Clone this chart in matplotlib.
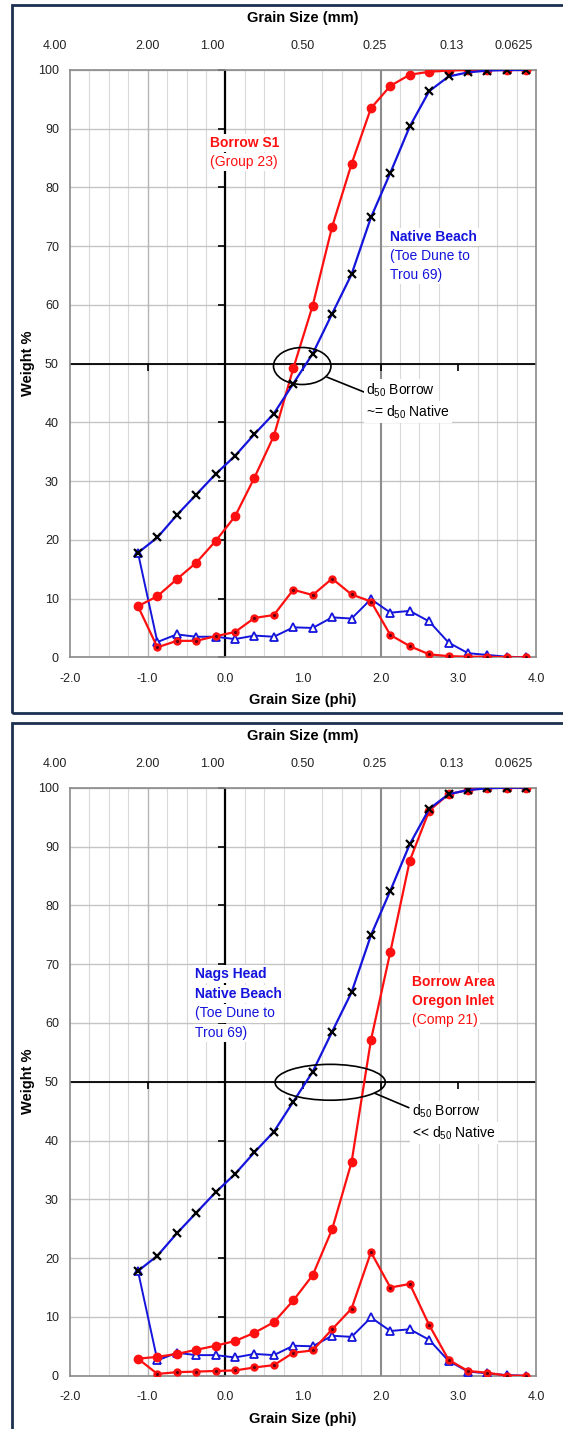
import matplotlib
matplotlib.use('Agg')
import matplotlib.pyplot as plt
from matplotlib.patches import Ellipse, Rectangle
import matplotlib.transforms as mtransforms
import numpy as np

plt.rcParams['font.family'] = ['Liberation Sans', 'DejaVu Sans']
plt.rcParams['mathtext.fontset'] = 'custom'
plt.rcParams['mathtext.rm'] = 'Liberation Sans'

# ---------------- data ----------------
phi = [-1.125, -0.875, -0.625, -0.375, -0.125, 0.125, 0.375, 0.625, 0.875, 1.125,
       1.375, 1.625, 1.875, 2.125, 2.375, 2.625, 2.875, 3.125, 3.375, 3.625, 3.875]

native_cum = [17.8, 20.4, 24.2, 27.7, 31.2, 34.3, 38.0, 41.5, 46.6, 51.7,
              58.5, 65.2, 74.9, 82.5, 90.4, 96.4, 98.9, 99.6, 99.9, 100.0, 100.0]
native_ret = [17.8, 2.6, 3.9, 3.5, 3.5, 3.1, 3.7, 3.5, 5.1, 5.0,
              6.8, 6.6, 9.9, 7.6, 7.9, 6.1, 2.5, 0.7, 0.4, 0.1, 0.0]

s1_cum = [8.7, 10.4, 13.3, 16.1, 19.8, 24.0, 30.6, 37.7, 49.2, 59.9,
          73.3, 84.0, 93.5, 97.3, 99.2, 99.7, 99.9, 100.0, 100.0, 100.0, 100.0]
s1_ret = [8.7, 1.7, 2.8, 2.8, 3.6, 4.3, 6.7, 7.2, 11.5, 10.6,
          13.4, 10.7, 9.5, 3.8, 1.9, 0.5, 0.2, 0.1, 0.1, 0.0, 0.0]

oi_cum = [2.9, 3.2, 3.7, 4.4, 5.1, 5.9, 7.3, 9.1, 12.8, 17.1,
          24.9, 36.3, 57.1, 72.1, 87.6, 96.1, 98.9, 99.6, 100.0, 100.0, 100.0]
oi_ret = [2.9, 0.3, 0.6, 0.7, 0.8, 0.9, 1.4, 1.8, 3.9, 4.3,
          7.9, 11.4, 21.0, 15.0, 15.6, 8.6, 2.7, 0.8, 0.5, 0.0, 0.0]

phi_ticks = [-2.0, -1.0, 0.0, 1.0, 2.0, 3.0, 4.0]
phi_labels = ['-2.0', '-1.0', '0.0', '1.0', '2.0', '3.0', '4.0']
mm_label_phi = [-2.2, -1.0, -0.17, 0.99, 1.92, 2.92, 3.71]
mm_labels = ['4.00', '2.00', '1.00', '0.50', '0.25', '0.13', '0.0625']
weight_ticks = [0, 10, 20, 30, 40, 50, 60, 70, 80, 90, 100]

RED = '#ff1010'
BLUE = '#1414dc'
FRAME = '#1c3050'
W, H = 563, 1429

fig = plt.figure(figsize=(W / 100, H / 100), dpi=100)

# outer frames
fig.patches.append(Rectangle((12 / W, 1 - 713 / H), 1.0, (713 - 5) / H,
                             transform=fig.transFigure, fill=False, ec=FRAME, lw=2.0))
fig.patches.append(Rectangle((12 / W, -0.1), 1.0, 1 - 723 / H + 0.1,
                             transform=fig.transFigure, fill=False, ec=FRAME, lw=2.0))


def panel(top_px, bot_px, borrow_cum, borrow_ret):
    ax = fig.add_axes([70 / W, 1 - bot_px / H, (536 - 70) / W, (bot_px - top_px) / H])
    ax.set_xlim(-2, 4)
    ax.set_ylim(0, 100)
    ax.set_xticks(phi_ticks, phi_labels)
    ax.set_xticks(np.arange(-2, 4.001, 0.25), minor=True)
    ax.set_yticks(weight_ticks, [str(v) for v in weight_ticks])
    ax.tick_params(axis='x', which='both', length=0, pad=11, labelsize=9, labelcolor='#222222')
    ax.tick_params(axis='y', which='both', length=0, pad=8, labelsize=9, labelcolor='#222222')
    ax.grid(which='minor', axis='x', color='#d9d9d9', lw=0.8)
    ax.grid(which='major', axis='y', color='#c4c4c4', lw=1.0)
    ax.grid(which='major', axis='x', visible=False)
    for s in ax.spines.values():
        s.set_color('#8a8a8a')
        s.set_linewidth(1.2)
    ax.set_axisbelow(True)
    ax.axvline(-1, color='#b4b4b4', lw=1.0, zorder=1)
    ax.axvline(2, color='#8c8c8c', lw=1.5, zorder=1)
    ax.axhline(50, color='black', lw=1.3, zorder=1.5)
    ax.axvline(0, color='black', lw=1.6, zorder=1.5)
    # tick marks on the crossing axes (left-pointing on phi=0, down-pointing on 50 %)
    ax.plot([0] * len(weight_ticks), weight_ticks, ls='none', marker=0, ms=5,
            mew=1.2, color='black', zorder=1.6, clip_on=False)
    ax.plot(phi_ticks[1:-1], [50] * (len(phi_ticks) - 2), ls='none', marker=3, ms=5,
            mew=1.2, color='black', zorder=1.6)

    trans = mtransforms.blended_transform_factory(ax.transData, ax.transAxes)
    off = 24 / (bot_px - top_px)
    for p, lab in zip(mm_label_phi, mm_labels):
        ax.text(p, 1 + off, lab, transform=trans, ha='center', va='center',
                fontsize=9, color='#222222', clip_on=False)

    ax.plot(phi, native_ret, color=BLUE, lw=1.4, marker='^', ms=5.5, mfc='#fffff0',
            mec=BLUE, mew=1.3, zorder=3)
    ax.plot(phi, borrow_ret, color=RED, lw=1.6, marker='o', ms=5, mfc=RED, mec=RED, zorder=4)
    ax.plot(phi, borrow_ret, ls='none', marker='.', ms=2.5, color='#600010', zorder=4.5)
    ax.plot(phi, borrow_cum, color=RED, lw=1.6, marker='o', ms=6, mfc=RED, mec=RED, zorder=5)
    ax.plot(phi, native_cum, color=BLUE, lw=1.6, marker='x', ms=6, mec='black', mew=1.6, zorder=6)

    cx = (70 + 536) / 2 / W
    fig.text(cx, 1 - (top_px - 52) / H, 'Grain Size (mm)', ha='center', va='center',
             fontsize=10.5, fontweight='bold')
    fig.text(cx, 1 - (bot_px + 43) / H, 'Grain Size (phi)', ha='center', va='center',
             fontsize=10.5, fontweight='bold')
    fig.text(28 / W, 1 - ((top_px + bot_px) / 2) / H, 'Weight %', ha='center', va='center',
             rotation=90, fontsize=10.5, fontweight='bold')
    return ax


box = dict(facecolor='white', edgecolor='none', pad=1.5)

# ---------- panel 1 ----------
ax1 = panel(70, 657.3, s1_cum, s1_ret)
ax1.text(-0.20, 87.6, 'Borrow S1', color=RED, fontsize=10, fontweight='bold', va='center', bbox=box, zorder=7)
ax1.text(-0.20, 84.3, '(Group 23)', color=RED, fontsize=10, va='center', bbox=box, zorder=7)
ax1.text(2.12, 71.6, 'Native Beach', color=BLUE, fontsize=10, fontweight='bold', va='center', bbox=box, zorder=7)
ax1.text(2.12, 68.3, '(Toe Dune to', color=BLUE, fontsize=10, va='center', bbox=box, zorder=7)
ax1.text(2.12, 65.1, 'Trou 69)', color=BLUE, fontsize=10, va='center', bbox=box, zorder=7)
ax1.add_patch(Ellipse((0.99, 49.6), 0.74, 6.3, fill=False, ec='black', lw=1.2, zorder=7))
ax1.plot([1.31, 1.78], [47.7, 45.2], color='black', lw=1.2, zorder=7)
ax1.text(1.81, 45.5, r'd$_\mathregular{50}$ Borrow', fontsize=10, va='center', bbox=box, zorder=7)
ax1.text(1.81, 41.8, r'~= d$_\mathregular{50}$ Native', fontsize=10, va='center', bbox=box, zorder=7)

# ---------- panel 2 ----------
ax2 = panel(787.7, 1375.7, oi_cum, oi_ret)
ax2.text(-0.39, 68.3, 'Nags Head', color=BLUE, fontsize=10, fontweight='bold', va='center', bbox=box, zorder=7)
ax2.text(-0.39, 64.9, 'Native Beach', color=BLUE, fontsize=10, fontweight='bold', va='center', bbox=box, zorder=7)
ax2.text(-0.39, 61.6, '(Toe Dune to', color=BLUE, fontsize=10, va='center', bbox=box, zorder=7)
ax2.text(-0.39, 58.3, 'Trou 69)', color=BLUE, fontsize=10, va='center', bbox=box, zorder=7)
ax2.text(2.40, 67.0, 'Borrow Area', color=RED, fontsize=10, fontweight='bold', va='center', bbox=box, zorder=7)
ax2.text(2.40, 63.8, 'Oregon Inlet', color=RED, fontsize=10, fontweight='bold', va='center', bbox=box, zorder=7)
ax2.text(2.40, 60.5, '(Comp 21)', color=RED, fontsize=10, va='center', bbox=box, zorder=7)
ax2.add_patch(Ellipse((1.35, 49.9), 1.42, 6.1, fill=False, ec='black', lw=1.2, zorder=7))
ax2.plot([1.93, 2.36], [48.0, 45.6], color='black', lw=1.2, zorder=7)
ax2.text(2.40, 44.9, r'd$_\mathregular{50}$ Borrow', fontsize=10, va='center', bbox=box, zorder=7)
ax2.text(2.40, 41.3, r'<< d$_\mathregular{50}$ Native', fontsize=10, va='center', bbox=box, zorder=7)

fig.savefig('out.png', dpi=100)
